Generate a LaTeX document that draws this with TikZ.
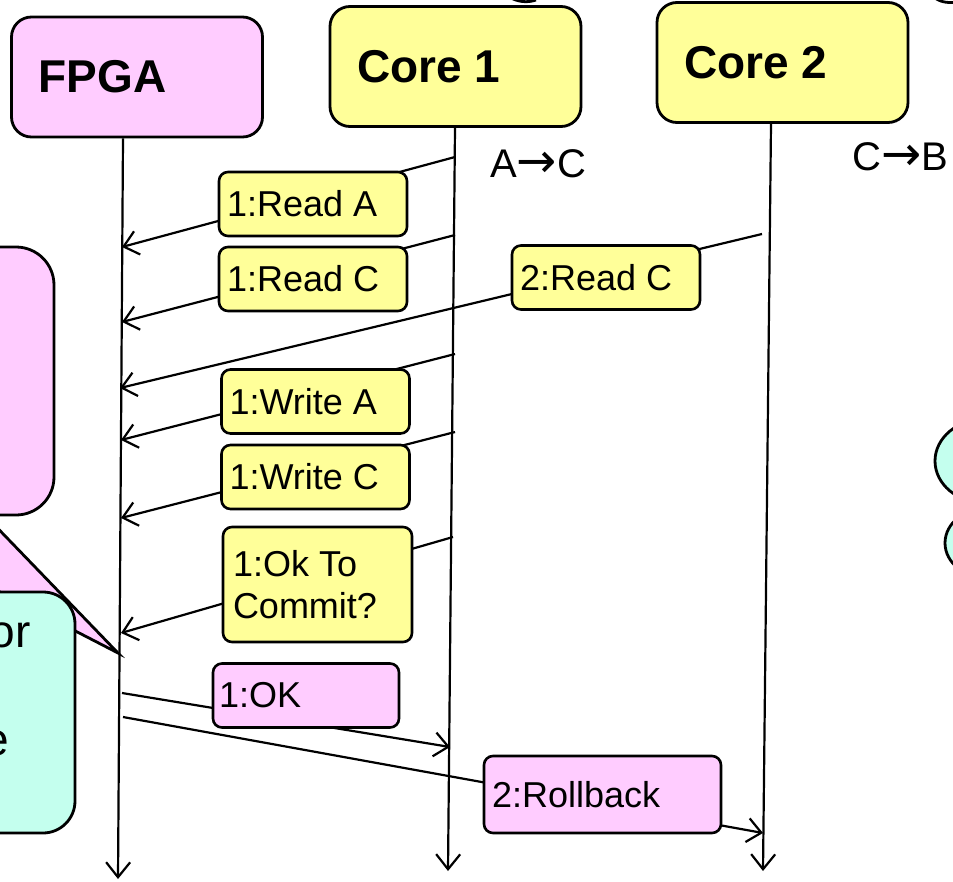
\documentclass[tikz,border=0pt]{standalone}
\usepackage{fontspec}
\setmainfont{Liberation Sans}
\newfontfamily\arrowfont{DejaVu Sans}
\definecolor{slpink}{HTML}{FFCCFF}
\definecolor{slyellow}{HTML}{FFFF99}
\definecolor{slteal}{HTML}{C4FFEE}
\usetikzlibrary{arrows.meta,positioning,calc}

\begin{document}
\begin{tikzpicture}[
  x=1pt, y=-1pt,
  head/.style={draw, line width=2.8pt, fill=#1, rounded corners=20pt,
    font=\fontsize{46}{54}\selectfont\bfseries, minimum height=120pt,
    text width=197pt, inner xsep=27pt, align=flush left},
  lbl/.style={draw, line width=2.6pt, fill=#1, rounded corners=9pt,
    font=\fontsize{36}{42}\selectfont, minimum height=64pt,
    text width=172pt, inner xsep=8pt, inner ysep=4pt, align=flush left},
  note/.style={font=\fontsize{40}{48}\selectfont, inner sep=0pt, anchor=base west},
  life/.style={line width=2.2pt, -{Straight Barb[length=15pt,width=24pt]}},
  msg/.style={line width=2.2pt, -{Straight Barb[length=14pt,width=24pt]}}
]
  \useasboundingbox (0,0) rectangle (953,881);
  \clip (0,0) rectangle (953,881);
  \fill[white] (0,0) rectangle (953,881);

  % Cut-off shapes at the edges
  \draw[line width=2.8pt, fill=slpink, rounded corners=38pt] (-60,247) rectangle (54,515);
  \draw[line width=2.8pt, fill=slpink] (-18,512) -- (118,653) -- (-155,512);
  \draw[line width=2.8pt, fill=slteal, rounded corners=32pt] (-60,592) rectangle (75,833);
  \node[font=\fontsize{46}{54}\selectfont, inner sep=0pt, anchor=base east] (tor) at (31,647) {or};
  \node[font=\fontsize{46}{54}\selectfont, inner sep=0pt, anchor=base east] (te) at (9,755) {e};
  \draw[line width=2.8pt, fill=slteal] (990,543) ellipse [x radius=45, y radius=36];
  \draw[line width=2.8pt, fill=slteal] (985,461) ellipse [x radius=50, y radius=42];
  \draw[line width=2.8pt] (509,-3) .. controls (518,2) and (527,3) .. (536,0);
  \draw[line width=2.8pt] (935,-2) .. controls (942,3) and (950,3) .. (958,2);

  % Participants
  \node[head=slpink] (fpga) at (137,77) {FPGA};
  \node[head=slyellow] (core1) at (455.5,66.5) {Core 1};
  \node[head=slyellow] (core2) at (782.5,62.5) {Core 2};

  \node[note] (ac) at (490,177) {A{\arrowfont\fontsize{48}{48}\selectfont →}C};
  \node[note] (cb) at (852,170) {C{\arrowfont\fontsize{48}{48}\selectfont →}B};

  % Lifelines
  \coordinate (fpgaEnd) at (118,879);
  \coordinate (core1End) at (448,871);
  \coordinate (core2End) at (763,871);
  \draw[life] (fpga.south -| 123,0) -- (fpgaEnd);
  \draw[life] (core1.south -| 455,0) -- (core1End);
  \draw[life] (core2.south -| 771,0) -- (core2End);

  % Messages
  \coordinate (rdA1) at (455,157);  \coordinate (rdA2) at (122,247);
  \coordinate (rdC1) at (455,235);  \coordinate (rdC2) at (122,322);
  \coordinate (rdD1) at (762,234);  \coordinate (rdD2) at (120,388);
  \coordinate (wrA1) at (455,354);  \coordinate (wrA2) at (121,440);
  \coordinate (wrC1) at (455,432);  \coordinate (wrC2) at (121,518);
  \coordinate (okq1) at (453,537);  \coordinate (okq2) at (121,633);
  \coordinate (ok1) at (122,693);   \coordinate (ok2) at (450,747);
  \coordinate (rb1) at (123,717);   \coordinate (rb2) at (763,833);
  \draw[msg] (rdA1) -- (rdA2);
  \draw[msg] (rdC1) -- (rdC2);
  \draw[msg] (rdD1) -- (rdD2);
  \draw[msg] (wrA1) -- (wrA2);
  \draw[msg] (wrC1) -- (wrC2);
  \draw[msg] (okq1) -- (okq2);
  \draw[msg] (ok1) -- (ok2);
  \draw[msg] (rb1) -- (rb2);

  % Labels
  \node[lbl=slyellow] (readA) at (313,204) {1:Read A};
  \node[lbl=slyellow] (readC) at (313,279) {1:Read C};
  \node[lbl=slyellow] (readC2) at (606,277.5) {2:Read C};
  \node[lbl=slyellow] (writeA) at (315.5,401.5) {1:Write A};
  \node[lbl=slyellow] (writeC) at (315.5,477) {1:Write C};
  \node[lbl=slyellow, minimum height=115pt, text width=169pt, inner xsep=10pt] (okcommit) at (317.5,584.5) {1:Ok To\\Commit?};
  \node[lbl=slpink, text width=174pt, inner xsep=6pt] (okmsg) at (306,695.5) {1:OK};
  \node[lbl=slpink, minimum height=77pt, text width=221pt] (rollback) at (602.5,794.5) {2:Rollback};
\end{tikzpicture}
\end{document}
